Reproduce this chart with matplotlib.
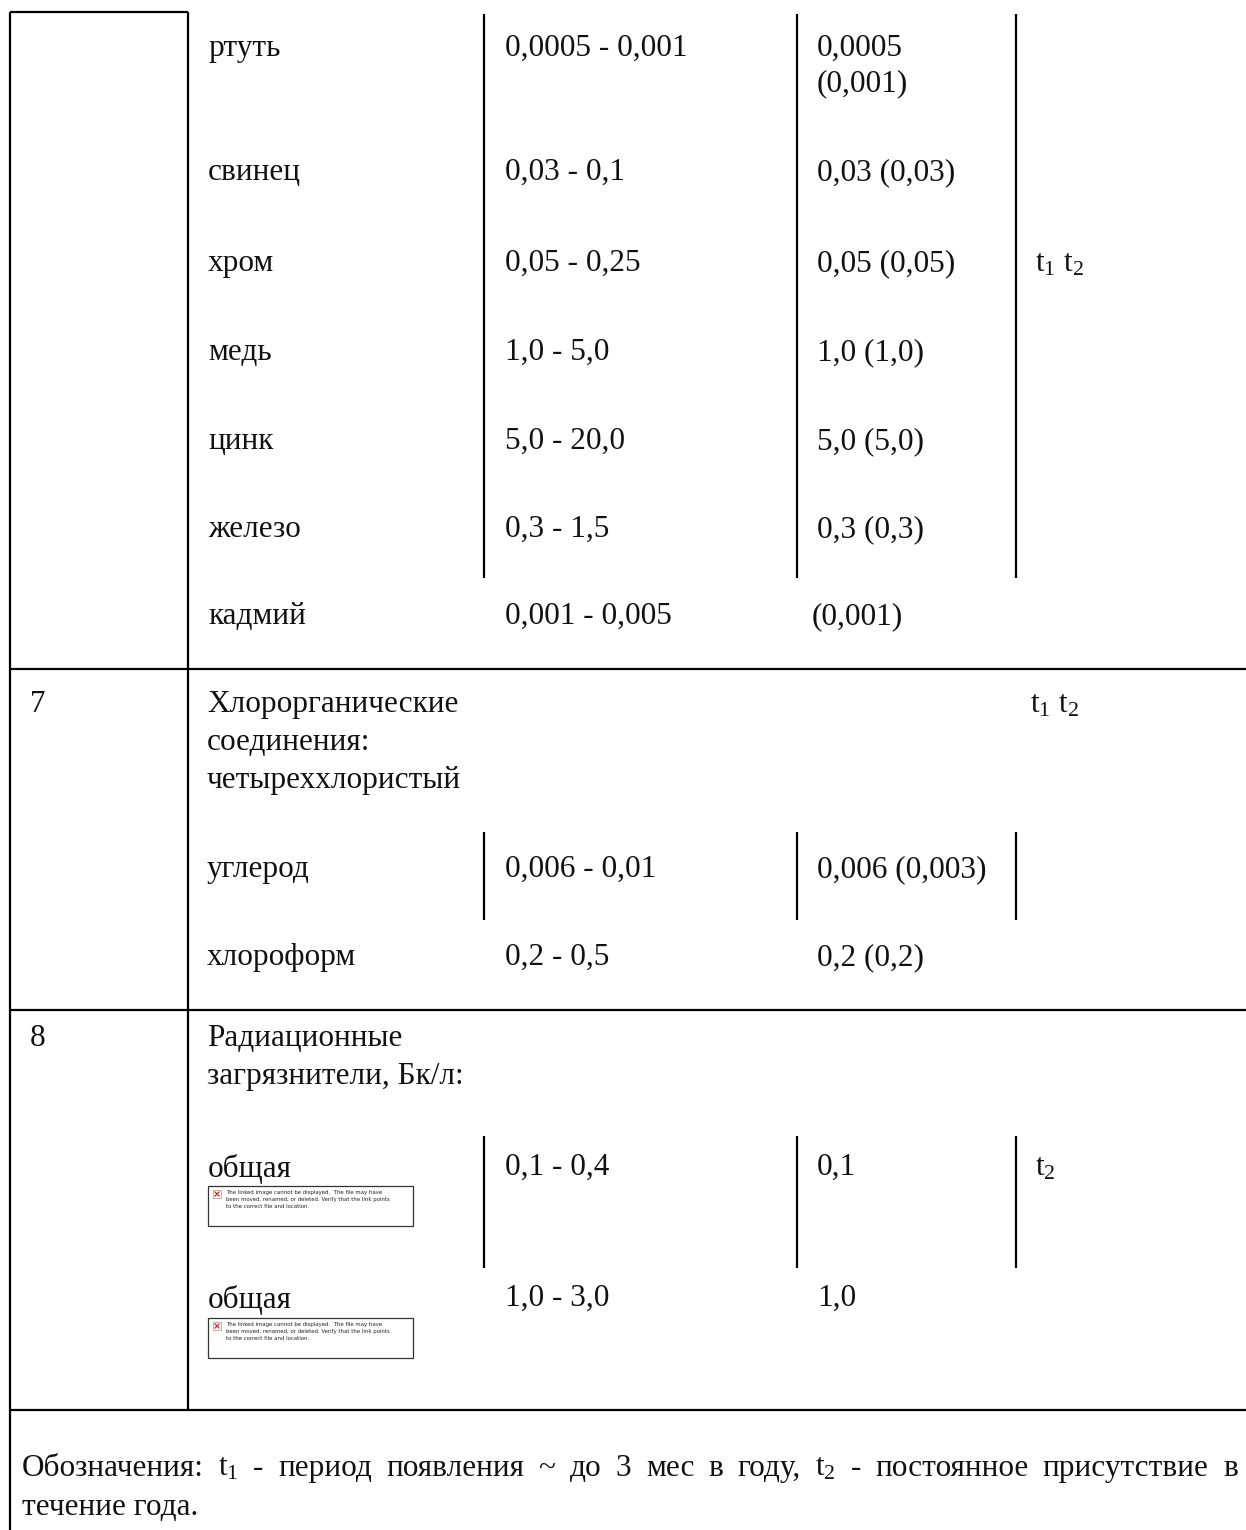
import matplotlib.pyplot as plt
from matplotlib.patches import Rectangle

plt.rcParams['font.family'] = ['Liberation Serif', 'DejaVu Serif']
plt.rcParams['mathtext.fontset'] = 'custom'
plt.rcParams['mathtext.rm'] = 'Liberation Serif'
plt.rcParams['mathtext.it'] = 'Liberation Serif:italic'

# table content
metals = ['ртуть', 'свинец', 'хром', 'медь', 'цинк', 'железо', 'кадмий']
metal_ranges = ['0,0005 - 0,001', '0,03 - 0,1', '0,05 - 0,25', '1,0 - 5,0',
                '5,0 - 20,0', '0,3 - 1,5', '0,001 - 0,005']
metal_pdk = [['0,0005', '(0,001)'], ['0,03 (0,03)'], ['0,05 (0,05)'], ['1,0 (1,0)'],
             ['5,0 (5,0)'], ['0,3 (0,3)'], ['(0,001)']]

group7_num = '7'
group7_title = ['Хлорорганические', 'соединения:', 'четыреххлористый']
chlor_names = ['углерод', 'хлороформ']
chlor_ranges = ['0,006 - 0,01', '0,2 - 0,5']
chlor_pdk = ['0,006 (0,003)', '0,2 (0,2)']

group8_num = '8'
group8_title = ['Радиационные', 'загрязнители, Бк/л:']
rad_names = ['общая', 'общая']
rad_ranges = ['0,1 - 0,4', '1,0 - 3,0']
rad_pdk = ['0,1', '1,0']

T12 = r'$\mathrm{t}_1$ $\mathrm{t}_2$'
T2 = r'$\mathrm{t}_2$'
broken_msg = ['The linked image cannot be displayed.  The file may have',
              'been moved, renamed, or deleted. Verify that the link points',
              'to the correct file and location.']
footer_words = ['Обозначения:', r'$\mathrm{t}_1$', '-', 'период', 'появления', '~', 'до', '3',
                'мес', 'в', 'году,', r'$\mathrm{t}_2$', '-', 'постоянное', 'присутствие', 'в']
footer_last = 'течение года.'

# layout (pixels)
W, H = 1246, 1530
FS = 22.5
X_NUM, X_NAME, X_RNG, X_PDK, X_T = 30, 208, 505, 817, 1035
metal_y = [56, 180, 271, 360, 449, 537, 624]

fig = plt.figure(figsize=(W / 100, H / 100), dpi=100)
ax = fig.add_axes([0, 0, 1, 1])
ax.set_xlim(0, W)
ax.set_ylim(H, 0)
ax.axis('off')

lw = 1.6


def hline(y, x0, x1):
    ax.plot([x0, x1], [y, y], color='black', lw=lw, solid_capstyle='butt')


def vline(x, y0, y1):
    ax.plot([x, x], [y0, y1], color='black', lw=lw, solid_capstyle='butt')


def txt(x, y, s, **kw):
    return ax.text(x, y, s, fontsize=kw.pop('fs', FS), va='baseline', ha='left', color='#111111', **kw)


# table frame
hline(12, 10, 188)
vline(10, 12, H)
vline(188, 12, 1410)
for y in (669, 1010, 1410):
    hline(y, 10, W)

# short column dividers
for y0, y1 in ((14, 578), (832, 920), (1136, 1268)):
    for x in (484, 797, 1016):
        vline(x, y0, y1)

# metals block
for name, rng, pdk, y in zip(metals, metal_ranges, metal_pdk, metal_y):
    txt(X_NAME, y, name)
    txt(X_RNG, y, rng)
    for k, line in enumerate(pdk):
        txt(X_PDK - (5 if line.startswith('(') and len(pdk) == 1 else 0), y + 35 * k, line)
txt(X_T, metal_y[2], T12)

# group 7
txt(X_NUM, 712, group7_num)
for k, line in enumerate(group7_title):
    txt(X_NAME - 1, 712 + 38 * k, line)
txt(1030, 712, T12)
for name, rng, pdk, y in zip(chlor_names, chlor_ranges, chlor_pdk, [877, 965]):
    txt(X_NAME - 1, y, name)
    txt(X_RNG, y, rng)
    txt(X_PDK, y, pdk)

# group 8
txt(X_NUM, 1046, group8_num)
for k, line in enumerate(group8_title):
    txt(X_NAME - 1, 1046 + 38 * k, line)
rad_y = [1177, 1308]
box_top = [1186, 1318]
for name, rng, pdk, y, bt in zip(rad_names, rad_ranges, rad_pdk, rad_y, box_top):
    txt(X_NAME, y, name)
    txt(X_RNG, y - 2, rng)
    txt(X_PDK, y - 2, pdk)
    # broken linked image placeholder
    ax.add_patch(Rectangle((208, bt), 205, 40, fill=False, edgecolor='#333333', lw=0.9))
    ax.add_patch(Rectangle((213, bt + 4), 8, 8, facecolor='white', edgecolor='#999999', lw=0.5))
    ax.plot([215, 219], [bt + 6, bt + 10], color='#e02020', lw=0.9)
    ax.plot([215, 219], [bt + 10, bt + 6], color='#e02020', lw=0.9)
    for k, line in enumerate(broken_msg):
        ax.text(226, bt + 8 + 7 * k, line, fontsize=3.9, family='DejaVu Sans',
                va='baseline', ha='left', color='#222222')
txt(X_T, rad_y[0] - 2, T2)

# footer, justified first line
renderer = fig.canvas.get_renderer()
items = [txt(0, 1476, w) for w in footer_words]
widths = [t.get_window_extent(renderer).width for t in items]
left, right = 22, 1238
gap = (right - left - sum(widths)) / (len(items) - 1)
x = left
for t, w in zip(items, widths):
    t.set_x(x)
    x += w + gap
txt(left, 1515, footer_last)

fig.savefig('out.png', dpi=100, facecolor='white')
